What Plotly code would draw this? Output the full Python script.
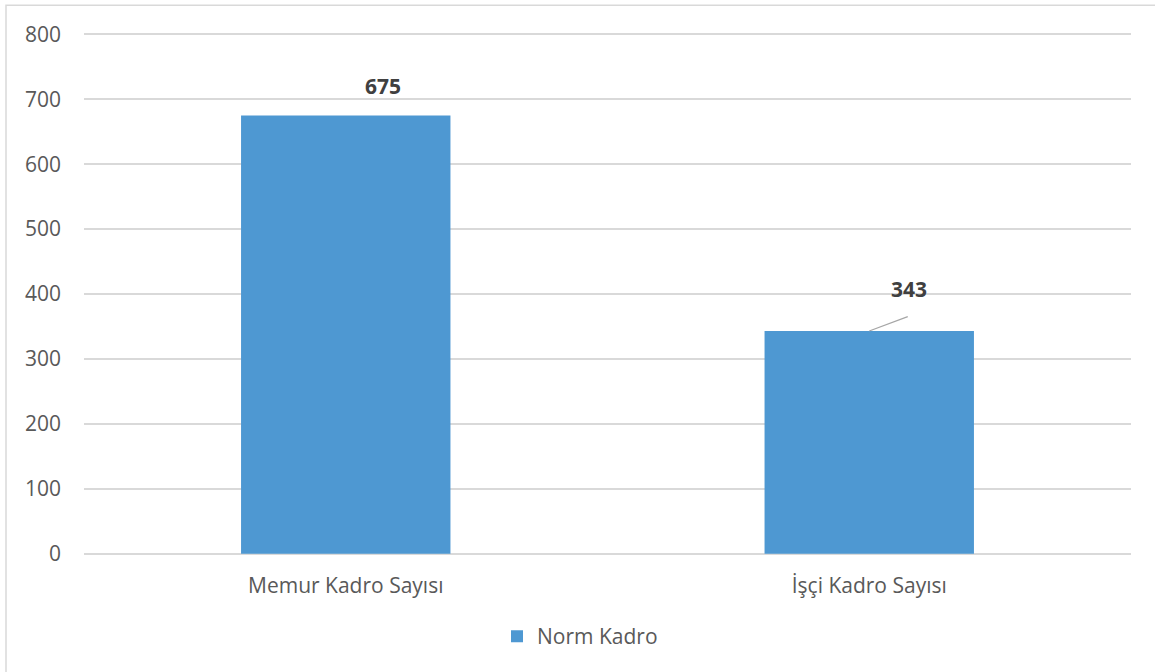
import plotly.graph_objects as go

categories = ["Memur Kadro Sayısı", "İşçi Kadro Sayısı"]
values = [675, 343]
series_name = "Norm Kadro"
y_ticks = [0, 100, 200, 300, 400, 500, 600, 700, 800]

bar_color = "#4e98d2"
grid_color = "#d9d9d9"
text_color = "#595959"
font_family = "Open Sans, Liberation Sans, sans-serif"
fs = 21

fig = go.Figure()
fig.add_trace(go.Bar(
    x=categories, y=values, name=series_name,
    marker=dict(color=bar_color, line=dict(width=0)),
    width=0.4, showlegend=True,
))

# data labels
fig.add_annotation(x=categories[0], y=values[0], text="<b>675</b>", showarrow=False,
                   xshift=37, yshift=29, font=dict(size=fs, color="#404040", family=font_family))
fig.add_annotation(x=categories[1], y=values[1], text="", showarrow=True,
                   ax=40, ay=-15, arrowhead=0, arrowwidth=1.3, arrowcolor="#a6a6a6", standoff=0)
fig.add_annotation(x=categories[1], y=values[1], text="<b>343</b>", showarrow=False,
                   xshift=40, yshift=42, font=dict(size=fs, color="#404040", family=font_family))

# plot area geometry (pixels): x 84..1131, y(800)=34, y(0)=554
ymin, ymax = -2, 802
ppu = 520 / 800
top = 34 - (ymax - 800) * ppu
bottom = 554 + (0 - ymin) * ppu
plot_h = bottom - top

fig.add_shape(type="rect", xref="paper", yref="paper",
              x0=(6 - 84) / 1047, x1=(1170 - 84) / 1047,
              y0=(bottom - 690) / plot_h, y1=(bottom - 5) / plot_h,
              line=dict(color=grid_color, width=1.5), layer="below")

fig.update_layout(
    width=1155, height=672,
    margin=dict(l=84, r=24, t=top, b=672 - bottom, autoexpand=False),
    paper_bgcolor="white", plot_bgcolor="white",
    font=dict(family=font_family, size=fs, color=text_color),
    bargap=0.6,
    showlegend=True,
    legend=dict(orientation="h", x=(580 - 84) / 1047, xanchor="center",
                y=(bottom - 637) / plot_h, yanchor="middle",
                font=dict(size=fs, color=text_color)),
    xaxis=dict(showgrid=False, showline=False, ticks="", ticklabelstandoff=16,
               automargin=False, tickfont=dict(size=fs, color=text_color)),
    yaxis=dict(range=[ymin, ymax], tickvals=y_ticks, showgrid=True, gridcolor=grid_color,
               gridwidth=1.5, zeroline=False, showline=False, ticks="",
               automargin=False, ticklabelstandoff=22,
               tickfont=dict(size=fs, color=text_color)),
)

fig.write_html("out.html", config={"displayModeBar": False},
               post_script="document.body.style.margin='0';document.body.style.padding='0';")
